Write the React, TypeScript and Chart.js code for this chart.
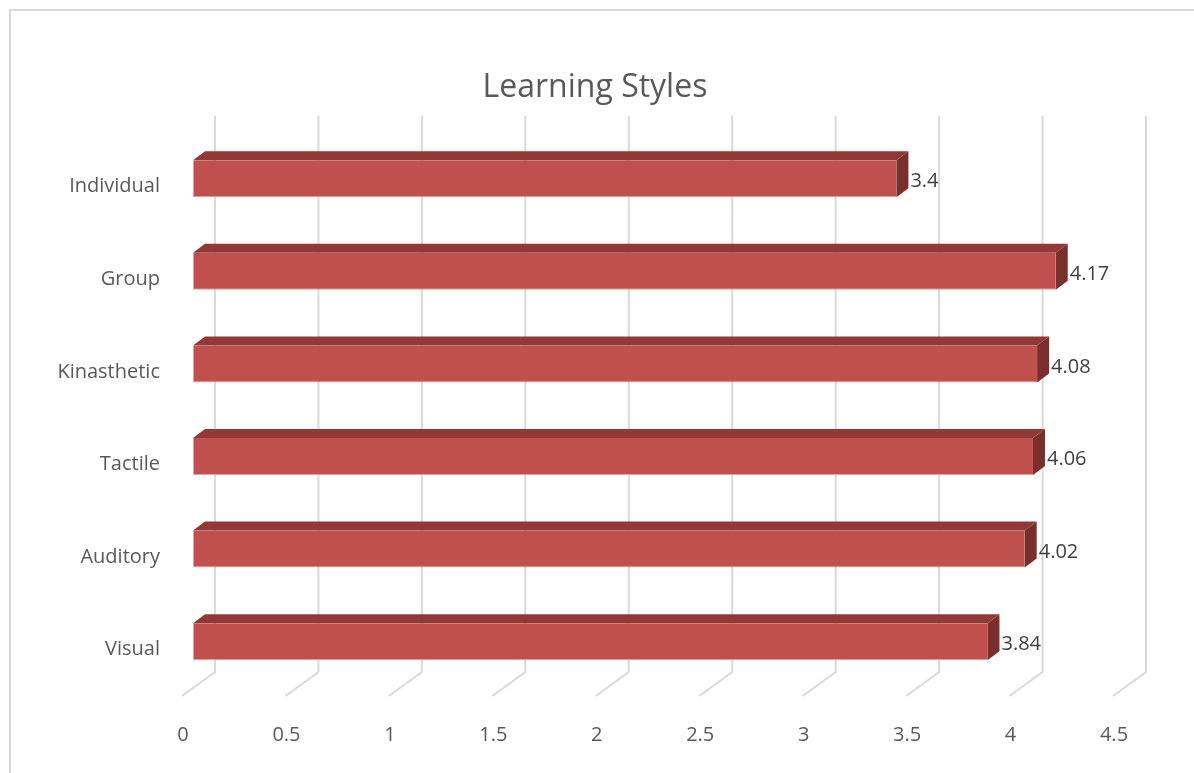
import React, { useEffect, useRef } from "react";
import { Chart, registerables } from "chart.js";

Chart.register(...registerables);

const categories = ["Individual", "Group", "Kinasthetic", "Tactile", "Auditory", "Visual"];
const values = [3.4, 4.17, 4.08, 4.06, 4.02, 3.84];
const xTicks = [0, 0.5, 1, 1.5, 2, 2.5, 3, 3.5, 4, 4.5];
const titleText = "Learning Styles";

const FONT = "'Open Sans', 'Noto Sans', sans-serif";
const FRONT = "#C0504D";
const TOP = "#923937";
const SIDE = "#7A2F2D";
const DX = 12;
const DY = 9;

const threeD = {
  id: "threeD",
  afterLayout(chart: any) {
    // let the category labels use the space left of the layout padding
    chart.scales.y.left = 0;
  },
  beforeDatasetsDraw(chart: any) {
    const { ctx, chartArea } = chart;
    const xs = chart.scales.x;
    ctx.save();
    ctx.strokeStyle = "#D9D9D9";
    ctx.lineWidth = 2;
    for (const v of xTicks) {
      const x = xs.getPixelForValue(v);
      ctx.beginPath();
      ctx.moveTo(x + 22, chartArea.top - 17);
      ctx.lineTo(x + 22, chartArea.bottom - 16);
      ctx.lineTo(x - 11, chartArea.bottom + 8);
      ctx.stroke();
    }
    ctx.restore();
  },
  afterDatasetsDraw(chart: any) {
    const { ctx } = chart;
    const meta = chart.getDatasetMeta(0);
    ctx.save();
    meta.data.forEach((bar: any, i: number) => {
      const { x, y, base, height } = bar.getProps(["x", "y", "base", "height"], true);
      const top = y - height / 2;
      const bottom = y + height / 2;
      ctx.fillStyle = TOP;
      ctx.beginPath();
      ctx.moveTo(base, top);
      ctx.lineTo(base + DX, top - DY);
      ctx.lineTo(x + DX, top - DY);
      ctx.lineTo(x, top);
      ctx.closePath();
      ctx.fill();
      ctx.fillStyle = SIDE;
      ctx.beginPath();
      ctx.moveTo(x, top);
      ctx.lineTo(x + DX, top - DY);
      ctx.lineTo(x + DX, bottom - DY);
      ctx.lineTo(x, bottom);
      ctx.closePath();
      ctx.fill();
      ctx.fillStyle = "#404040";
      ctx.font = `20px ${FONT}`;
      ctx.textAlign = "left";
      ctx.textBaseline = "middle";
      ctx.fillText(String(values[i]), x + DX + 2, y + 3);
    });
    ctx.restore();
  },
};

export default function App() {
  const ref = useRef<HTMLCanvasElement>(null);
  useEffect(() => {
    const chart = new Chart(ref.current as HTMLCanvasElement, {
      type: "bar",
      data: {
        labels: categories,
        datasets: [
          {
            data: values,
            backgroundColor: FRONT,
            borderColor: "#DFA3A1",
            borderWidth: { top: 0, right: 0, bottom: 1, left: 1 },
            borderSkipped: false,
            barPercentage: 0.4,
            categoryPercentage: 1,
          },
        ],
      },
      options: {
        indexAxis: "y",
        animation: false,
        responsive: false,
        layout: { padding: { left: 66, right: 70, top: 0, bottom: 0 } },
        plugins: {
          legend: { display: false },
          tooltip: { enabled: false },
          title: {
            display: true,
            text: titleText,
            color: "#595959",
            font: { family: FONT, size: 32, weight: "normal" },
            padding: { top: 69, bottom: 25 },
          },
        },
        scales: {
          x: {
            min: 0,
            max: 4.5,
            grid: { display: false, drawTicks: false },
            border: { display: false },
            afterBuildTicks: (s: any) => {
              s.ticks = xTicks.map((v) => ({ value: v }));
            },
            afterFit: (s: any) => {
              s.height = 85;
            },
            ticks: {
              color: "#595959",
              font: { family: FONT, size: 20 },
              padding: 35,
              labelOffset: -10,
              maxRotation: 0,
              autoSkip: false,
              callback: (v: any) => String(v),
            },
          },
          y: {
            grid: { display: false, drawTicks: false },
            border: { display: false },
            afterFit: (s: any) => {
              s.width = 127;
            },
            ticks: {
              color: "#595959",
              font: { family: FONT, size: 20 },
              padding: 33,
              labelOffset: 8,
            },
          },
        },
      },
      plugins: [threeD],
    } as any);
    return () => chart.destroy();
  }, []);

  return (
    <div style={{ position: "fixed", left: 0, top: 0, width: 1194, height: 773, background: "#fff" }}>
      <canvas ref={ref} width={1194} height={773} style={{ position: "absolute", left: 0, top: 0 }} />
      <div
        style={{
          position: "absolute",
          left: 9,
          top: 9,
          width: 1200,
          height: 800,
          borderTop: "2px solid #D9D9D9",
          borderLeft: "2px solid #D9D9D9",
          pointerEvents: "none",
        }}
      />
    </div>
  );
}
